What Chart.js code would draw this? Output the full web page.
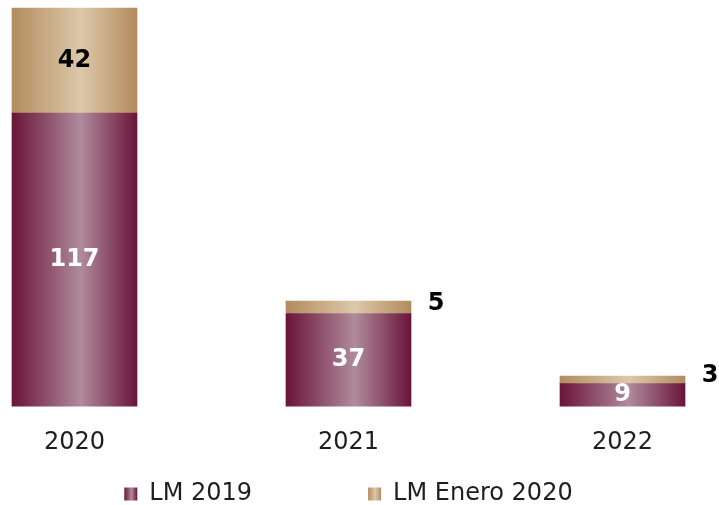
<!DOCTYPE html>
<html>
<head>
<meta charset="utf-8">
<script src="https://cdn.jsdelivr.net/npm/chart.js@4.4.1/dist/chart.umd.min.js"></script>
<style>
  html, body { margin: 0; padding: 0; background: #fff; }
</style>
</head>
<body>
<canvas id="chart" width="719" height="505"></canvas>
<script>
// ---- Data ----------------------------------------------------------
const years       = ["2020", "2021", "2022"];
const lm2019      = [117, 37, 9];
const lmEnero2020 = [42, 5, 3];
const seriesNames = ["LM 2019", "LM Enero 2020"];

// ---- Styles --------------------------------------------------------
const BAR_W = 125;
const MAROON = [[0, "#6a1439"], [0.55, "#b08b9b"], [1, "#6a1439"]];
const GOLD   = [[0, "#b38c5e"], [0.55, "#dcc8aa"], [1, "#b38c5e"]];
const FILLS  = [MAROON, GOLD];
const TEXT   = "#1e1e1e";
const NUM_FONT = "bold 24px 'DejaVu Sans', sans-serif";
const AXIS_FONT = { family: "'DejaVu Sans', sans-serif", size: 24 };

function gradient(ctx, x0, x1, stops) {
  const g = ctx.createLinearGradient(x0, 0, x1, 0);
  stops.forEach(([o, c]) => g.addColorStop(o, c));
  return g;
}

function barFill(stops) {
  return (c) => {
    const chart = c.chart;
    if (!chart.chartArea || c.dataIndex == null) return stops[1][1];
    const x = chart.scales.x.getPixelForValue(c.dataIndex);
    return gradient(chart.ctx, x - BAR_W / 2, x + BAR_W / 2, stops);
  };
}

// ---- Value labels ---------------------------------------------------
const valueLabels = {
  id: "valueLabels",
  afterDatasetsDraw(chart) {
    const ctx = chart.ctx;
    ctx.save();
    ctx.font = NUM_FONT;
    ctx.textAlign = "center";
    ctx.textBaseline = "middle";
    chart.data.datasets.forEach((ds, di) => {
      chart.getDatasetMeta(di).data.forEach((bar, i) => {
        const h = bar.base - bar.y;
        const mid = bar.y + h / 2;
        const v = ds.data[i];
        if (h > 20) {
          ctx.fillStyle = di === 0 ? "#ffffff" : "#000000";
          ctx.fillText(v, bar.x, mid);
        } else {
          ctx.fillStyle = "#000000";
          ctx.fillText(v, bar.x + bar.width / 2 + 25, mid - 4);
        }
      });
    });
    ctx.restore();
  },
};

// ---- Legend with gradient boxes ---------------------------------------
const boxLegend = {
  id: "boxLegend",
  afterDraw(chart) {
    const ctx = chart.ctx;
    const area = chart.chartArea;
    const BOX = 13, TEXT_GAP = 12, ITEM_GAP = 116;
    ctx.save();
    ctx.font = "24px 'DejaVu Sans', sans-serif";
    const items = chart.data.datasets.map((ds, i) => {
      const tw = ctx.measureText(ds.label).width;
      return { text: ds.label, stops: FILLS[i], w: BOX + TEXT_GAP + tw };
    });
    const total = items.reduce((s, it) => s + it.w, 0) + ITEM_GAP * (items.length - 1);
    let x = (area.left + area.right) / 2 - total / 2;
    const y = chart.height - 11;
    items.forEach((it) => {
      ctx.fillStyle = gradient(ctx, x, x + BOX, it.stops);
      ctx.fillRect(x, y - BOX / 2, BOX, BOX);
      ctx.fillStyle = TEXT;
      ctx.textAlign = "left";
      ctx.textBaseline = "middle";
      ctx.fillText(it.text, x + BOX + TEXT_GAP, y);
      x += it.w + ITEM_GAP;
    });
    ctx.restore();
  },
};

// ---- Chart ----------------------------------------------------------
new Chart(document.getElementById("chart"), {
  type: "bar",
  data: {
    labels: years,
    datasets: [
      {
        label: seriesNames[0],
        data: lm2019,
        backgroundColor: barFill(MAROON),
        barThickness: BAR_W,
        borderWidth: 0,
        clip: false,
      },
      {
        label: seriesNames[1],
        data: lmEnero2020,
        backgroundColor: barFill(GOLD),
        barThickness: BAR_W,
        borderWidth: 0,
        clip: false,
      },
    ],
  },
  options: {
    responsive: false,
    devicePixelRatio: 1,
    animation: false,
    layout: { padding: { left: 74.5, right: 96.5, top: 8, bottom: 26 } },
    plugins: {
      legend: { display: false },
      tooltip: { enabled: false },
    },
    scales: {
      x: {
        stacked: true,
        offset: false,
        grid: { display: false, drawTicks: false },
        border: { display: false },
        ticks: { color: TEXT, font: AXIS_FONT, padding: 22, maxRotation: 0 },
      },
      y: {
        stacked: true,
        display: false,
        min: 0,
        max: 159,
      },
    },
  },
  plugins: [valueLabels, boxLegend],
});
</script>
</body>
</html>
